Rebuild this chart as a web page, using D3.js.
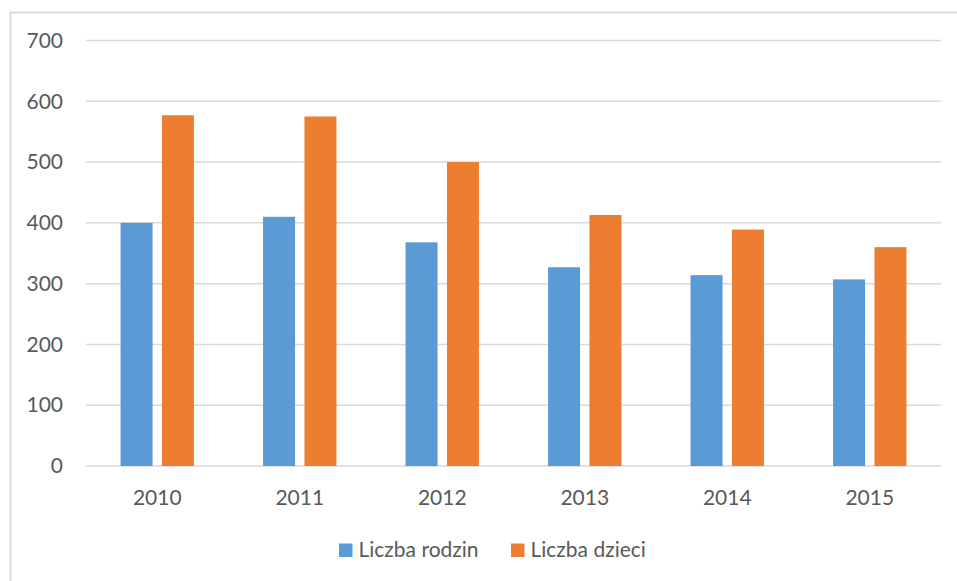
<!DOCTYPE html>
<html><head><meta charset="utf-8">
<script src="https://cdn.jsdelivr.net/npm/d3@7"></script>
<style>
body{margin:0;background:#fff;}
svg{display:block;font-family:Lato,"Open Sans",sans-serif;}
</style></head>
<body>
<svg id="chart" width="957" height="581"></svg>
<script>
const years = ["2010","2011","2012","2013","2014","2015"];
const seriesNames = ["Liczba rodzin","Liczba dzieci"];
const rodziny = [400, 410, 368, 327, 314, 307];
const dzieci = [577, 575, 500, 413, 389, 360];
const yTicks = [0,100,200,300,400,500,600,700];
const colors = ["#5b9bd5","#ed7d31"];

const svg = d3.select("#chart");
const plotLeft = 86, plotRight = 941, plotTop = 40.5, plotBottom = 466;

// outer chart border
svg.append("rect").attr("x",10.5).attr("y",12.5).attr("width",980).attr("height",600)
  .attr("fill","none").attr("stroke","#d9d9d9").attr("stroke-width",2);

const y = d3.scaleLinear().domain([0,700]).range([plotBottom, plotTop]);
const x0 = d3.scaleBand().domain(years).range([plotLeft, plotRight]).padding(0);
const x1 = d3.scaleBand().domain(seriesNames).range([0, x0.bandwidth()])
  .paddingInner(0.227).paddingOuter(0.835);

// gridlines
svg.append("g").selectAll("line").data(yTicks).join("line")
  .attr("x1", plotLeft).attr("x2", plotRight)
  .attr("y1", d => y(d)).attr("y2", d => y(d))
  .attr("stroke", "#d9d9d9").attr("stroke-width", 1.5);

// y axis labels
const yAxis = d3.axisLeft(y).tickValues(yTicks).tickSize(0).tickPadding(0);
const gy = svg.append("g").attr("transform", `translate(63,0)`).call(yAxis);
gy.select(".domain").remove();
gy.selectAll("text").attr("fill","#595959").style("font-size","21px").style("font-family","Lato");

// bars
const data = years.map((yr,i) => ({year: yr, vals: [rodziny[i], dzieci[i]]}));
const groups = svg.append("g").selectAll("g").data(data).join("g")
  .attr("transform", d => `translate(${x0(d.year)},0)`);
groups.selectAll("rect").data(d => d.vals.map((v,j) => ({name: seriesNames[j], v, j}))).join("rect")
  .attr("x", d => x1(d.name)).attr("width", x1.bandwidth())
  .attr("y", d => y(d.v)).attr("height", d => y(0) - y(d.v))
  .attr("fill", d => colors[d.j]);

// x axis labels
const xAxis = d3.axisBottom(x0).tickSize(0).tickPadding(0);
const gx = svg.append("g").attr("transform", `translate(0,${plotBottom})`).call(xAxis);
gx.select(".domain").remove();
gx.selectAll("text").attr("dy", null).attr("y", 39).attr("fill","#595959")
  .style("font-size","21px").style("font-family","Lato");

// legend
const legend = svg.append("g");
const legendX = [339, 511];
seriesNames.forEach((n, i) => {
  const g = legend.append("g").attr("transform", `translate(${legendX[i]},0)`);
  g.append("rect").attr("x",0).attr("y",543.5).attr("width",13.5).attr("height",13.5).attr("fill",colors[i]);
  g.append("text").attr("x",19.5).attr("y",557).attr("fill","#595959")
    .style("font-size","21px").text(n);
});
</script>
</body></html>
